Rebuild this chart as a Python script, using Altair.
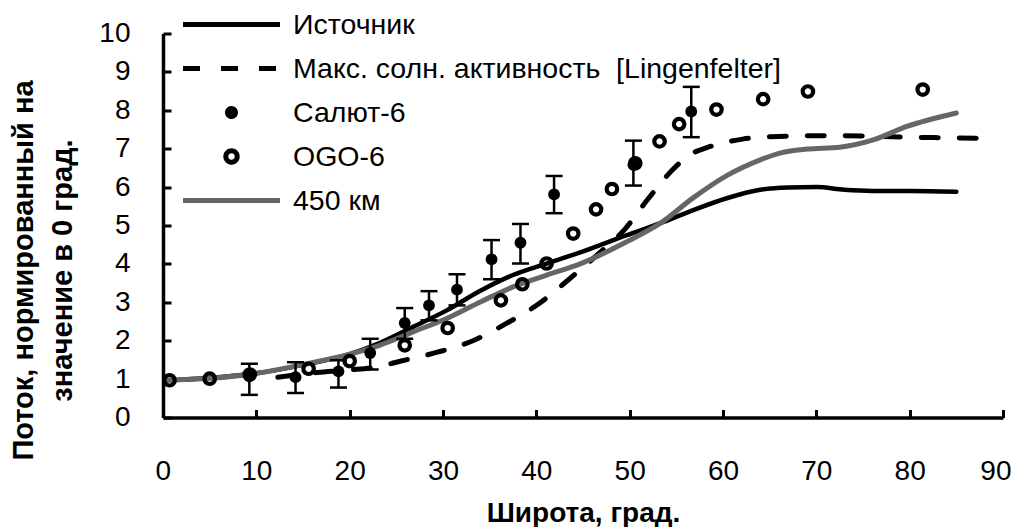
import altair as alt
import pandas as pd

# ---- series names (legend order) ----
names = ["Источник", "Макс. солн. активность\u00a0 [Lingenfelter]", "Салют-6", "OGO-6", "450 км"]

# ---- Источник (black solid line) ----
src_x = [0.3, 5, 10, 15, 20, 23.2, 26.8, 30.4, 34.0, 37.5, 41.1, 44.7, 49.7, 53.3, 56.8, 60.4, 64.0, 67.0, 70.0, 73.0, 76.0, 80.0, 85.0]
src_y = [0.97, 1.03, 1.15, 1.37, 1.65, 1.94, 2.36, 2.79, 3.30, 3.71, 4.01, 4.30, 4.75, 5.06, 5.40, 5.71, 5.93, 5.99, 6.00, 5.93, 5.90, 5.90, 5.88]

# ---- Макс. солн. активность [Lingenfelter] (black dashed) ----
lin_x = [12.3, 16.5, 20, 22.5, 25.5, 29.4, 33.2, 36.8, 40.3, 43.5, 47.1, 49.4, 51.9, 54.6, 56.5, 58.2, 60.5, 62.1, 66, 72, 80, 87.5]
lin_y = [1.05, 1.17, 1.24, 1.30, 1.47, 1.70, 2.00, 2.45, 2.97, 3.60, 4.36, 4.88, 5.67, 6.45, 6.85, 7.02, 7.18, 7.25, 7.32, 7.34, 7.30, 7.27]

# ---- 450 км (grey line) ----
km_x = [0.3, 5, 10, 15, 20, 23.2, 26.8, 30.4, 34.0, 37.5, 41.1, 44.7, 49.7, 53.3, 56.8, 60.4, 64.0, 66.0, 69.0, 72.5, 76.1, 79.7, 85.0]
km_y = [0.97, 1.02, 1.15, 1.38, 1.65, 1.88, 2.23, 2.58, 3.01, 3.40, 3.71, 4.00, 4.58, 5.06, 5.72, 6.30, 6.71, 6.88, 6.99, 7.04, 7.23, 7.58, 7.93]

# ---- Салют-6 (filled dots with error bars) ----
sal_x = [9.25, 14.2, 18.8, 22.2, 25.9, 28.5, 31.5, 35.2, 38.3, 41.9, 50.4, 56.6]
sal_y = [1.07, 1.05, 1.20, 1.68, 2.46, 2.92, 3.33, 4.12, 4.55, 5.81, 6.58, 7.97]
sal_lo = [0.59, 0.64, 0.78, 1.25, 2.05, 2.53, 2.92, 3.60, 4.01, 5.32, 6.04, 7.30]
sal_hi = [1.40, 1.44, 1.49, 2.05, 2.85, 3.29, 3.73, 4.62, 5.04, 6.29, 7.21, 8.61]

# ---- OGO-6 (open circles) ----
ogo_x = [0.7, 5.0, 9.3, 15.6, 20.0, 25.9, 30.5, 36.2, 38.5, 41.1, 43.95, 46.4, 48.1, 50.6, 53.2, 55.3, 59.3, 64.3, 69.1, 81.4]
ogo_y = [0.97, 1.01, 1.12, 1.27, 1.47, 1.88, 2.33, 3.05, 3.47, 4.01, 4.79, 5.42, 5.95, 6.62, 7.19, 7.64, 8.02, 8.29, 8.49, 8.54]

x_ticks = list(range(0, 91, 10))
y_ticks = list(range(0, 11, 1))

FONT = "Liberation Sans"

src_df = pd.DataFrame({"x": src_x, "y": src_y})
lin_df = pd.DataFrame({"x": lin_x, "y": lin_y})
km_df = pd.DataFrame({"x": km_x, "y": km_y})
sal_df = pd.DataFrame({"x": sal_x, "y": sal_y, "lo": sal_lo, "hi": sal_hi})
ogo_df = pd.DataFrame({"x": ogo_x, "y": ogo_y})
leg_df = pd.DataFrame({"series": names})

xs = alt.Scale(domain=[0, 90], nice=False, zero=False)
ys = alt.Scale(domain=[0, 10], nice=False, zero=False)

x_axis = alt.Axis(values=x_ticks, title="Широта, град.", labelFontSize=28,
                  labelFlush=True, labelFlushOffset=8,
                  tickSize={"expr": "-8"}, labelPadding=70, labelBaseline="alphabetic",
                  titleFontSize=28, titleFontWeight="bold", titleY=104,
                  titleBaseline="alphabetic")
y_axis = alt.Axis(values=y_ticks, title=["Поток, нормированный на", "значение в 0 град."],
                  labelFontSize=28, labelFlush=False, tickSize={"expr": "-8"}, labelPadding=41,
                  titleFontSize=29, titleFontWeight="bold", titleAngle=270,
                  titleX=-140, titleY=236.5, titleBaseline="middle",
                  titleAlign="center", titleLineHeight=39)

X = alt.X("x:Q", scale=xs, axis=x_axis)
Y = alt.Y("y:Q", scale=ys, axis=y_axis)

# legend built from a scale-driven (empty) layer
line_p = "M-1,0H1"
def circ(r):
    return f"M{-r},0A{r},{r},0,1,1,{r},0A{r},{r},0,1,1,{-r},0Z"
shape_range = [line_p, line_p, circ(0.0825), circ(0.1175), line_p]
stroke_range = ["#000000", "#000000", "#000000", "#000000", "#666666"]
fill_range = ["transparent", "transparent", "#000000", "#ffffff", "transparent"]
dash_range = [[1, 0], [17, 21], [1, 0], [1, 0], [1, 0]]

leg = alt.Legend(orient="none", legendX=17.5, legendY=-24, title=None,
                 clipHeight=30, rowPadding=14, symbolSize=9409, symbolStrokeWidth=5,
                 labelOffset=10.5, labelFontSize=28.5, labelFont=FONT, labelColor="black",
                 labelLimit=1000, padding=0, symbolOffset=0)

legend_layer = alt.Chart(leg_df).transform_filter("false").mark_point(
    filled=True, opacity=1).encode(
    shape=alt.Shape("series:N", scale=alt.Scale(domain=names, range=shape_range), legend=leg),
    stroke=alt.Stroke("series:N", scale=alt.Scale(domain=names, range=stroke_range), legend=leg),
    fill=alt.Fill("series:N", scale=alt.Scale(domain=names, range=fill_range), legend=leg),
    strokeDash=alt.StrokeDash("series:N", scale=alt.Scale(domain=names, range=dash_range), legend=leg),
)

lin_layer = alt.Chart(lin_df).mark_line(color="black", strokeWidth=5, strokeDash=[17, 21],
                                        strokeCap="round", interpolate="monotone").encode(x=X, y=Y)
src_layer = alt.Chart(src_df).mark_line(color="black", strokeWidth=4.5, strokeCap="round",
                                        interpolate="monotone").encode(x=X, y=Y)
km_layer = alt.Chart(km_df).mark_line(color="#666666", strokeWidth=5, strokeCap="round",
                                      interpolate="monotone").encode(x=X, y=Y)
err_layer = alt.Chart(sal_df).mark_rule(color="black", strokeWidth=2.5).encode(
    x=X, y=alt.Y("lo:Q", scale=ys, axis=y_axis), y2="hi:Q")
cap_layer = alt.Chart(sal_df).transform_fold(["lo", "hi"], as_=["k", "v"]).mark_tick(
    orient="horizontal", size=17, thickness=2.5, color="black", opacity=1).encode(
    x=X, y=alt.Y("v:Q", scale=ys, axis=y_axis))
sal_layer = alt.Chart(sal_df).mark_point(filled=True, size=140, color="black", opacity=1).encode(x=X, y=Y)
ogo_layer = alt.Chart(ogo_df).mark_point(filled=False, size=110, strokeWidth=4.2, color="black",
                                         opacity=1).encode(x=X, y=Y)

chart = alt.layer(legend_layer, lin_layer, src_layer, km_layer, err_layer, cap_layer,
                  sal_layer, ogo_layer).properties(
    width=840, height=384,
    padding={"left": 155, "top": 25.5, "right": 9, "bottom": 110},
    autosize=alt.AutoSizeParams(type="none"),
).configure_view(strokeWidth=0).configure_axis(
    domainColor="black", domainWidth=3.5, tickColor="black", tickWidth=3, grid=False,
    labelFont=FONT, labelColor="black", titleFont=FONT, titleColor="black",
)

chart.save("out.html", embed_options={"renderer": "svg", "actions": False})
